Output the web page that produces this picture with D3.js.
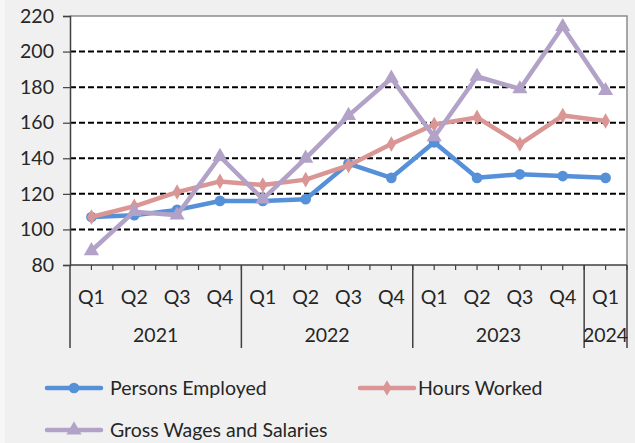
<!DOCTYPE html>
<html><head><meta charset="utf-8">
<script src="https://cdn.jsdelivr.net/npm/d3@7"></script>
<style>html,body{margin:0;padding:0;background:#f0f0f0;}svg{display:block;}</style>
</head><body>
<svg id="c" width="635" height="443"></svg>
<script>
const quarters = ["Q1","Q2","Q3","Q4","Q1","Q2","Q3","Q4","Q1","Q2","Q3","Q4","Q1"];
const years = [{label:"2021", n:4},{label:"2022", n:4},{label:"2023", n:4},{label:"2024", n:1}];
const personsEmployed = [107,108,111,116,116,117,137,129,149,129,131,130,129];
const hoursWorked = [107,113,121,127,125,128,136,148,159,163,148,164,161];
const grossWages = [88,110,108,141,117,140,164,185,152,186,179,214,178];
const yTicks = [80,100,120,140,160,180,200,220];
const seriesNames = ["Persons Employed","Hours Worked","Gross Wages and Salaries"];

const FONT = "Lato, 'Liberation Sans', sans-serif";
const FS = 19.5;
const svg = d3.select("#c");
const W=635,H=443;
const L=70,R=627,T=16,B=265;
svg.append("rect").attr("width",W).attr("height",H).attr("fill","#f0f0f0");
svg.append("rect").attr("x",0).attr("y",0).attr("width",5).attr("height",H).attr("fill","#f7f7f7");

const x = d3.scaleBand().domain(d3.range(quarters.length)).range([L,R]);
const y = d3.scaleLinear().domain([80,220]).range([B,T]);

svg.append("rect").attr("x",L).attr("y",T).attr("width",R-L).attr("height",B-T).attr("fill","#fff");

// gridlines
svg.append("g").selectAll("line").data(yTicks.filter(v=>v>80&&v<220)).join("line")
  .attr("x1",L).attr("x2",R).attr("y1",d=>y(d)).attr("y2",d=>y(d))
  .attr("stroke","#000").attr("stroke-width",2).attr("stroke-dasharray","6,3");

// top/right border
svg.append("path").attr("d",`M${L},${T}H${R}V${B}`).attr("fill","none").attr("stroke","#8c8c8c").attr("stroke-width",1.5);

// y axis
const ya = svg.append("g").attr("transform",`translate(${L},0)`)
  .call(d3.axisLeft(y).tickValues(yTicks).tickSize(7).tickPadding(9));
ya.select(".domain").attr("stroke","#404040").attr("stroke-width",1.5);
ya.selectAll(".tick line").attr("stroke","#404040").attr("stroke-width",1.2);
ya.selectAll("text").attr("font-family",FONT).attr("font-size",FS).attr("fill","#262626");

// x axis baseline
svg.append("line").attr("x1",L).attr("x2",R).attr("y1",B).attr("y2",B).attr("stroke","#404040").attr("stroke-width",1.5);
// small ticks at centres and boundaries
const smallTicks = [];
quarters.forEach((q,i)=>{smallTicks.push(x(i)+x.bandwidth()/2); smallTicks.push(x(i)+x.bandwidth());});
svg.append("g").selectAll("line").data(smallTicks).join("line")
  .attr("x1",d=>d).attr("x2",d=>d).attr("y1",B).attr("y2",B+5).attr("stroke","#404040").attr("stroke-width",1.2);

// quarter labels
svg.append("g").selectAll("text").data(quarters).join("text")
  .attr("x",(d,i)=>x(i)+x.bandwidth()/2).attr("y",304).attr("text-anchor","middle")
  .attr("font-family",FONT).attr("font-size",FS).attr("fill","#262626").text(d=>d);

// year groups
let idx=0;
const yg = svg.append("g");
yg.append("line").attr("x1",L).attr("x2",L).attr("y1",B).attr("y2",348).attr("stroke","#404040").attr("stroke-width",1.5);
years.forEach(yr=>{
  const x0 = x(idx), x1 = x(idx+yr.n-1)+x.bandwidth();
  yg.append("line").attr("x1",x1).attr("x2",x1).attr("y1",B).attr("y2",348).attr("stroke","#404040").attr("stroke-width",1.5);
  yg.append("text").attr("x",(x0+x1)/2).attr("y",342).attr("text-anchor","middle")
    .attr("font-family",FONT).attr("font-size",FS).attr("fill","#262626").text(yr.label);
  idx+=yr.n;
});

const colors = ["#5590d9","#d99694","#b3a2c7"];
const data = [personsEmployed,hoursWorked,grossWages];
const symbols = [d3.symbolCircle,d3.symbolDiamond,d3.symbolTriangle];
const symSizes = [90,70,100];
const line = d3.line().x((d,i)=>x(i)+x.bandwidth()/2).y(d=>y(d));

data.forEach((s,k)=>{
  svg.append("path").datum(s).attr("d",line).attr("fill","none")
    .attr("stroke",colors[k]).attr("stroke-width",4.5).attr("stroke-linejoin","round");
  svg.append("g").selectAll("path").data(s).join("path")
    .attr("transform",(d,i)=>`translate(${x(i)+x.bandwidth()/2},${y(d)})`)
    .attr("d",d3.symbol().type(symbols[k]).size(symSizes[k])).attr("fill",colors[k]);
});

// legend
const legendPos = [{lx:47,tx:110,ty:388},{lx:360,tx:418,ty:388},{lx:47,tx:110,ty:430}];
seriesNames.forEach((n,k)=>{
  const p = legendPos[k];
  const g = svg.append("g");
  g.append("line").attr("x1",p.lx).attr("x2",p.lx+54).attr("y1",p.ty).attr("y2",p.ty)
    .attr("stroke",colors[k]).attr("stroke-width",4.5).attr("stroke-linecap","round");
  g.append("path").attr("transform",`translate(${p.lx+27},${p.ty})`)
    .attr("d",d3.symbol().type(symbols[k]).size(symSizes[k])).attr("fill",colors[k]);
  g.append("text").attr("x",p.tx).attr("y",p.ty+7).attr("font-family",FONT).attr("font-size",FS)
    .attr("fill","#262626").text(n);
});
</script>
</body></html>
